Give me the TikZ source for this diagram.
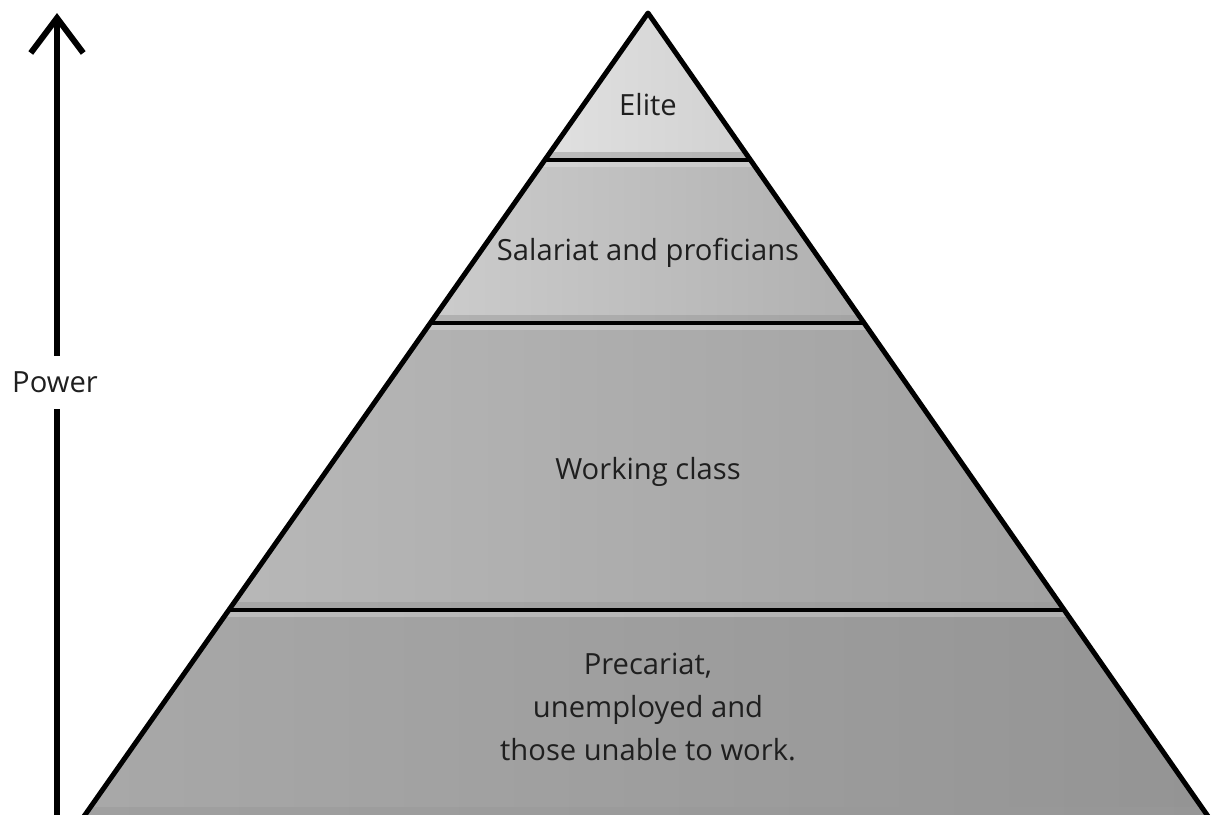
\documentclass[tikz,border=0pt]{standalone}
\usepackage{fontspec}
\setmainfont{Open Sans}
\usetikzlibrary{arrows.meta,calc}

\begin{document}
\begin{tikzpicture}[x=0.02cm,y=-0.02cm,
  layertext/.style={font=\fontsize{16.6}{24.4}\selectfont, text=black!88, align=center},
  sep/.style={line width=0.09cm},
  side/.style={line width=0.1cm, line join=round}]
  \clip (0,0) rectangle (1211,815);
  \coordinate (apex) at (648,13);
  \coordinate (bl) at (80,822);
  \coordinate (br) at (1212,822);
  % bands: top y / bottom y / left colour / right colour
  \begin{scope}
    \clip (apex) -- (bl) -- (br) -- cycle;
    \foreach \yt/\yb/\cl/\cr in {13/160/black!12/black!18, 160/323/black!20/black!31,
                                 323/610/black!28/black!37, 610/815/black!34/black!42} {
      \pgfmathsetmacro\xl{648-0.702*(\yb-13)}
      \pgfmathsetmacro\xr{648+0.697*(\yb-13)}
      \shade[left color=\cl, right color=\cr] (\xl,\yt) rectangle (\xr,\yb);
      \fill[black!40, opacity=.5] (\xl,\yb-8) rectangle (\xr,\yb);   % dark rim below
      \fill[white, opacity=.25] (\xl,\yt) rectangle (\xr,\yt+7);     % light rim above
    }
  \end{scope}
  \foreach \y in {160,323,610} {
    \draw[sep] ($(apex)!{(\y-13)/809}!(bl)$) -- ($(apex)!{(\y-13)/809}!(br)$);
  }
  \draw[side] (bl) -- (apex) -- (br);

  \node[layertext] (elite) at (648,105) {Elite};
  \node[layertext] (salariat) at (648,253) {Salariat and proficians};
  \node[layertext] (working) at (648,472) {Working class};
  \node[layertext] (precariat) at (648,707) {Precariat,\\unemployed and\\those unable to work.};

  % power axis
  \coordinate (pbase) at (57,815);
  \coordinate (ptop) at (57,13);
  \draw[line width=0.12cm, -{Straight Barb[length=0.7cm,width=1.05cm]}] (pbase) -- (ptop);
  \node[layertext, fill=white, minimum height=1.06cm, inner xsep=2pt] (power) at (55,382) {Power};
\end{tikzpicture}
\end{document}
